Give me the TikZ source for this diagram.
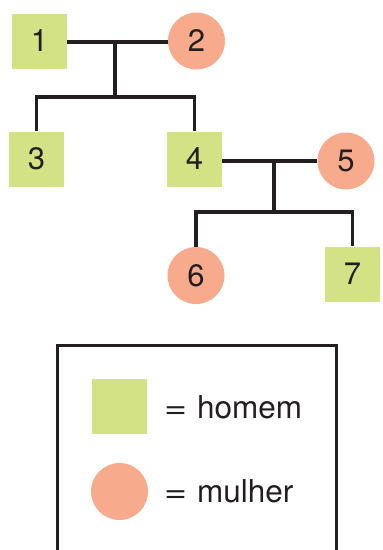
\documentclass[tikz,border=0pt]{standalone}
\usepackage{fontspec}
\usepackage{graphicx}
\setmainfont{TeX Gyre Heros}
\definecolor{homemcol}{RGB}{212,226,134}
\definecolor{mulhercol}{RGB}{248,170,140}
\definecolor{linecol}{RGB}{35,31,32}
\begin{document}
\begin{tikzpicture}[x=1pt,y=-1pt,
  homem/.style={rectangle,fill=homemcol,minimum size=55pt,inner sep=0pt,text=linecol,font=\fontsize{31}{36}\selectfont},
  mulher/.style={circle,fill=mulhercol,minimum size=57pt,inner sep=0pt,text=linecol,font=\fontsize{31}{36}\selectfont},
  link/.style={draw=linecol,line width=3.5pt},
  legtext/.style={anchor=base west,inner sep=0pt,text=linecol,font=\fontsize{31.5}{36}\selectfont}]
\useasboundingbox (0,0) rectangle (383,550);
% people
\node[homem]  (n1) at (39.5,41) {1};
\node[mulher] (n2) at (196.5,41) {2};
\node[homem]  (n3) at (36.5,159) {3};
\node[homem]  (n4) at (194.5,159) {4};
\node[mulher] (n5) at (346,161) {5};
\node[mulher] (n6) at (196,275.5) {6};
\node[homem]  (n7) at (352.5,274) {7};
% junctions
\coordinate (j1) at (115,42);
\coordinate (j1b) at (115,97);
\coordinate (j2) at (274,161);
\coordinate (j2b) at (274,212);
% connectors
\draw[link] (n1.east |- j1) -- (n2.west |- j1);
\draw[link] (j1) -- (j1b);
\draw[link] (n3.north) |- (j1b) -| (n4.north);
\draw[link] (n4.east |- j2) -- (n5.west |- j2);
\draw[link] (j2) -- (j2b);
\draw[link] (n6.north) |- (j2b) -| (n7.north);
% legend
\draw[draw=linecol,line width=3pt] (57,560) -- (57,345) -- (336,345) -- (336,560);
\node[homem]  (lh) at (119.5,406) {};
\node[mulher] (lm) at (119.5,491.5) {};
\node[legtext] (eh) at (164,418) {\scalebox{1.25}[1]{=}};
\node[legtext] (th) at (197,418) {homem};
\node[legtext] (em) at (164,502) {\scalebox{1.25}[1]{=}};
\node[legtext] (tm) at (197,502) {mulher};
\end{tikzpicture}
\end{document}
